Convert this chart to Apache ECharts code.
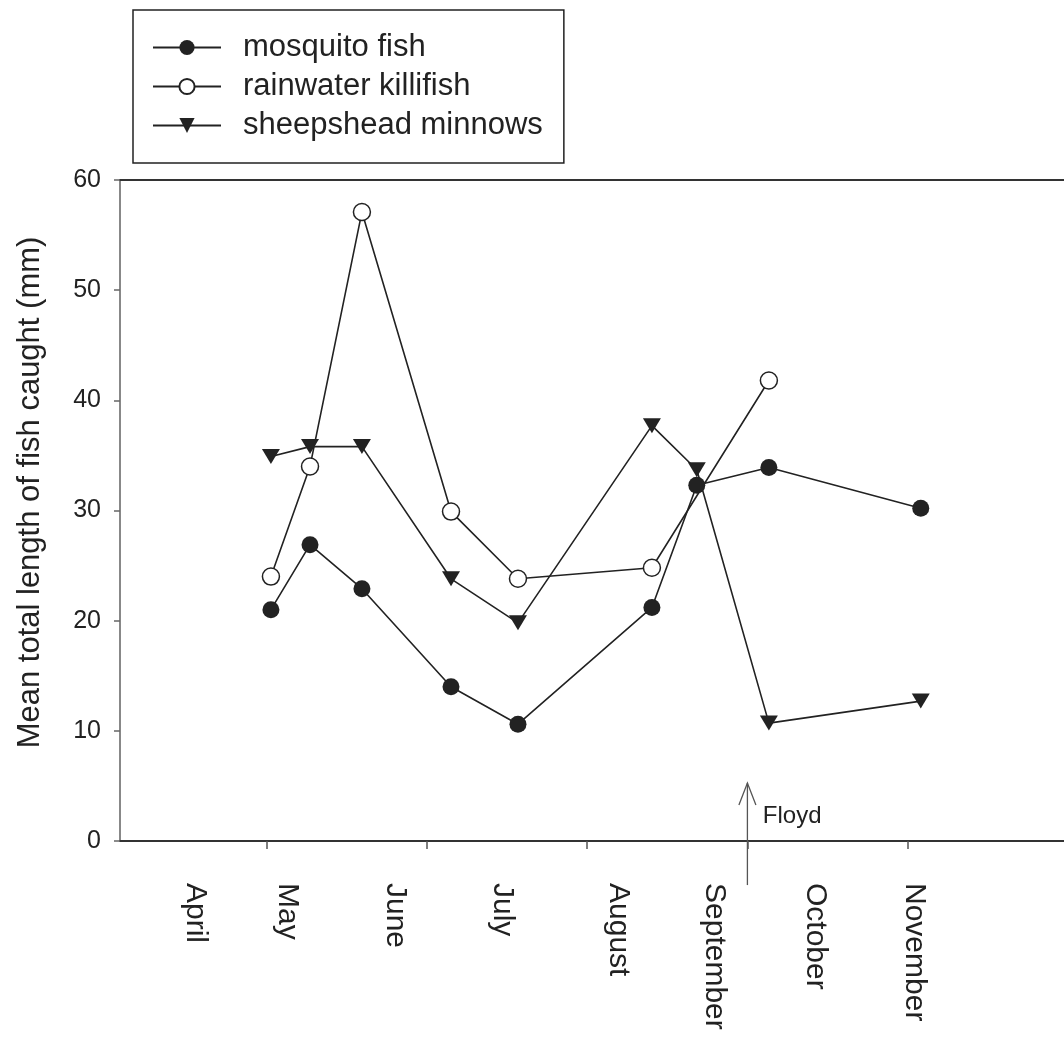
<!DOCTYPE html>
<html>
<head>
<meta charset="utf-8">
<script src="https://cdn.jsdelivr.net/npm/echarts@6/dist/echarts.min.js"></script>
<style>html,body{margin:0;padding:0;background:#fff;}#c{width:1064px;height:1046px;}</style>
</head>
<body>
<div id="c"></div>
<script>
// ---- data ----
const monthNames = ['April', 'May', 'June', 'July', 'August', 'September', 'October', 'November'];
const monthPos = [127.6, 156.3, 190.0, 223.4, 259.6, 289.8, 321.1, 352.2];
const tickPos = [150, 200, 250, 300, 350];
const yTicks = [0, 10, 20, 30, 40, 50, 60];
const sampleDays = [151.3, 163.5, 179.7, 207.5, 228.4, 270.2, 284.2, 306.7, 354.1];
const mosquitoFish = [21.0, 26.9, 22.9, 14.0, 10.6, 21.2, 32.3, 33.9, 30.2];
const rainwaterKillifish = [24.0, 34.0, 57.1, 29.9, 23.8, 24.8, null, 41.8, null];
const sheepsheadMinnows = [34.9, 35.8, 35.8, 23.8, 19.8, 37.7, 33.7, 10.7, 12.7];
const floydDay = 300;
const floydLabel = 'Floyd';

const FONT = '"Liberation Sans", Arial, Helvetica, sans-serif';
const INK = '#222';

function pts(arr) { return sampleDays.map((d, i) => [d, arr[i] === null ? '-' : arr[i]]); }

const chart = echarts.init(document.getElementById('c'), null, { renderer: 'canvas' });

const option = {
  backgroundColor: '#fff',
  animation: false,
  textStyle: { fontFamily: FONT, color: INK },
  legend: {
    orient: 'vertical',
    left: 133, top: 10,
    padding: [22, 21, 22, 19],
    borderColor: INK, borderWidth: 1.5,
    backgroundColor: '#fff',
    itemWidth: 68, itemHeight: 19, itemGap: 8,
    textStyle: { fontFamily: FONT, fontSize: 31, lineHeight: 31, color: INK, padding: [0, 0, 0, 17] },
    data: ['mosquito fish', 'rainwater killifish', 'sheepshead minnows']
  },
  grid: { left: 120, right: 0, top: 180, bottom: 205, containLabel: false },
  xAxis: [{
    type: 'value', min: 104.2, max: 398.8, position: 'bottom',
    axisLine: { show: true, lineStyle: { color: '#333', width: 2 } },
    axisTick: { show: true, inside: false, length: 8, customValues: tickPos, lineStyle: { color: '#555', width: 1.5 } },
    axisLabel: {
      show: true, customValues: monthPos, rotate: -90, margin: 42,
      fontFamily: FONT, fontSize: 30, color: INK,
      formatter: v => { const i = monthPos.indexOf(v); return i >= 0 ? monthNames[i] : ''; }
    },
    splitLine: { show: false }
  }, {
    type: 'value', min: 104.2, max: 398.8, position: 'top',
    axisLine: { show: true, onZero: false, lineStyle: { color: '#333', width: 2 } },
    axisTick: { show: false }, axisLabel: { show: false }, splitLine: { show: false }
  }],
  yAxis: {
    type: 'value', min: 0, max: 60, interval: 10,
    name: 'Mean total length of fish caught (mm)',
    nameLocation: 'middle', nameGap: 74,
    nameTextStyle: { fontFamily: FONT, fontSize: 31, color: INK, padding: [0, 0, 0, 36] },
    axisLine: { show: true, lineStyle: { color: '#888', width: 2 } },
    axisTick: { show: true, inside: false, length: 6, lineStyle: { color: '#666', width: 1.5 } },
    axisLabel: { margin: 19, fontFamily: FONT, fontSize: 25, color: INK, formatter: v => yTicks.includes(v) ? String(v) : '' },
    splitLine: { show: false }
  },
  series: [{
    name: 'rainwater killifish', type: 'line', data: pts(rainwaterKillifish), connectNulls: true,
    symbol: 'circle', symbolSize: 17, z: 2,
    lineStyle: { color: INK, width: 1.6 },
    itemStyle: { color: '#fff', borderColor: INK, borderWidth: 1.5 }
  }, {
    name: 'sheepshead minnows', type: 'line', data: pts(sheepsheadMinnows),
    symbol: 'triangle', symbolRotate: 180, symbolSize: [18, 15], z: 3,
    lineStyle: { color: INK, width: 1.6 },
    itemStyle: { color: INK, borderColor: INK, borderWidth: 0 }
  }, {
    name: 'mosquito fish', type: 'line', data: pts(mosquitoFish),
    symbol: 'circle', symbolSize: 17, z: 4,
    lineStyle: { color: INK, width: 1.6 },
    itemStyle: { color: INK, borderColor: INK, borderWidth: 0 }
  }]
};
chart.setOption(option);

// Floyd arrow annotation positioned through the chart's own scales
const pBot = chart.convertToPixel({ gridIndex: 0 }, [floydDay, -4.0]);
const pTop = chart.convertToPixel({ gridIndex: 0 }, [floydDay, 5.26]);
const pHead = chart.convertToPixel({ gridIndex: 0 }, [floydDay, 3.26]);
const pTxt = chart.convertToPixel({ gridIndex: 0 }, [304.8, 2.22]);
chart.setOption({
  graphic: [
    { type: 'line', shape: { x1: pBot[0], y1: pBot[1], x2: pTop[0], y2: pTop[1] }, style: { stroke: '#555', lineWidth: 1.3 }, z: 10 },
    { type: 'polyline', shape: { points: [[pHead[0] - 8.5, pHead[1]], [pTop[0], pTop[1]], [pHead[0] + 8.5, pHead[1]]] }, style: { stroke: '#555', lineWidth: 1.3, fill: null }, z: 10 },
    { type: 'text', x: pTxt[0], y: pTxt[1], style: { text: floydLabel, font: '24px ' + FONT, fill: INK, textAlign: 'left', textVerticalAlign: 'middle' }, z: 10 }
  ]
});
</script>
</body>
</html>
